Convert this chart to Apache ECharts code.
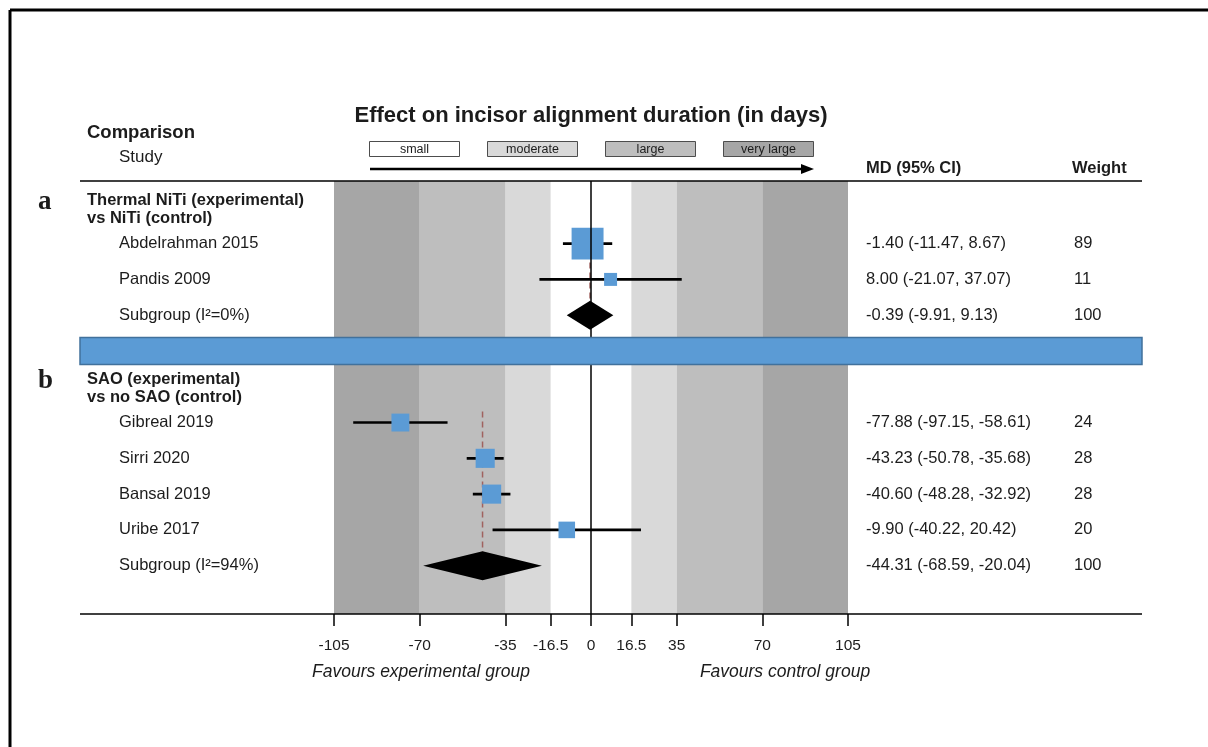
<!DOCTYPE html>
<html>
<head>
<meta charset="utf-8">
<title>Effect on incisor alignment duration</title>
<script src="https://cdn.jsdelivr.net/npm/echarts@6/dist/echarts.min.js"></script>
<style>
  html, body { margin: 0; padding: 0; background: #fff; }
  #chart { width: 1208px; height: 747px; }
</style>
</head>
<body>
<div id="chart"></div>
<script>
// ---- Data -------------------------------------------------------------
const chartTitle = 'Effect on incisor alignment duration (in days)';

// Subgroup a: thermal NiTi vs NiTi
const groupA_title = ['Thermal NiTi (experimental)', 'vs NiTi (control)'];
const groupA_studies = ['Abdelrahman 2015', 'Pandis 2009'];
const groupA_md = [-1.40, 8.00];
const groupA_lower = [-11.47, -21.07];
const groupA_upper = [8.67, 37.07];
const groupA_weight = [89, 11];
const groupA_pooled = [-0.39, -9.91, 9.13];   // MD, lower, upper
const groupA_i2 = 0;

// Subgroup b: SAO vs no SAO
const groupB_title = ['SAO (experimental)', 'vs no SAO (control)'];
const groupB_studies = ['Gibreal 2019', 'Sirri 2020', 'Bansal 2019', 'Uribe 2017'];
const groupB_md = [-77.88, -43.23, -40.60, -9.90];
const groupB_lower = [-97.15, -50.78, -48.28, -40.22];
const groupB_upper = [-58.61, -35.68, -32.92, 20.42];
const groupB_weight = [24, 28, 28, 20];
const groupB_pooled = [-44.31, -68.59, -20.04];
const groupB_i2 = 94;

// Axis ticks and effect-size thresholds (days)
const axisTicks = [-105, -70, -35, -16.5, 0, 16.5, 35, 70, 105];
const effectThresholds = [16.5, 35, 70, 105];
const effectLabels = ['small', 'moderate', 'large', 'very large'];
const favourLabels = ['Favours experimental group', 'Favours control group'];

// ---- Styling ----------------------------------------------------------
const SANS = "'Liberation Sans', Arial, Helvetica, sans-serif";
const SERIF = "'Liberation Serif', 'Times New Roman', serif";
const TXT = '#1c1c1c';
const BLUE = '#5b9bd5';
const bandColors = ['#ffffff', '#d9d9d9', '#bebebe', '#a6a6a6'];

const groups = [
  { letter: 'a', title: groupA_title, studies: groupA_studies, md: groupA_md,
    lower: groupA_lower, upper: groupA_upper, weight: groupA_weight,
    pooled: groupA_pooled, i2: groupA_i2 },
  { letter: 'b', title: groupB_title, studies: groupB_studies, md: groupB_md,
    lower: groupB_lower, upper: groupB_upper, weight: groupB_weight,
    pooled: groupB_pooled, i2: groupB_i2 }
];

// Row layout on the (inverted) y axis: one unit per table row
let cursor = 1.75;
groups.forEach(g => {
  g.start = cursor;
  g.rows = g.studies.map((_, i) => cursor + i);
  g.subRow = cursor + g.studies.length;
  g.sepRow = g.subRow + 1;
  cursor = g.subRow + 3;
});

const fmt = v => v.toFixed(2);
const ciText = (m, l, u) => `${fmt(m)} (${fmt(l)}, ${fmt(u)})`;

// study points: [md, row, lower, upper, weight]
const studyData = [];
const pooledData = [];
groups.forEach(g => {
  g.studies.forEach((_, i) => {
    studyData.push([g.md[i], g.rows[i], g.lower[i], g.upper[i], g.weight[i]]);
  });
  pooledData.push([g.pooled[0], g.subRow, g.pooled[1], g.pooled[2], g.start]);
});

// shaded effect-size bands, mirrored about zero
const bandAreas = [];
for (let i = 1; i < effectThresholds.length; i++) {
  const a = effectThresholds[i - 1], b = effectThresholds[i];
  bandAreas.push([{ xAxis: -b, itemStyle: { color: bandColors[i] } }, { xAxis: -a }]);
  bandAreas.push([{ xAxis: a, itemStyle: { color: bandColors[i] } }, { xAxis: b }]);
}

const chart = echarts.init(document.getElementById('chart'), null, { renderer: 'canvas' });

const option = {
  animation: false,
  backgroundColor: '#ffffff',
  grid: { left: 334, top: 181, width: 514, height: 433 },
  xAxis: {
    type: 'value', min: -105, max: 105, position: 'bottom',
    axisLine: { show: false, onZero: false },
    splitLine: { show: false },
    axisTick: { show: true, customValues: axisTicks, length: 12, lineStyle: { color: '#000', width: 1.5 } },
    axisLabel: { show: true, customValues: axisTicks, margin: 24, fontFamily: SANS, fontSize: 15.5, color: TXT,
                 formatter: v => String(v) }
  },
  yAxis: { type: 'value', min: 0, max: 12.1, inverse: true, show: false },
  series: [
    {
      type: 'line', data: [], z: 1, silent: true,
      markArea: { silent: true, data: bandAreas },
      markLine: {
        silent: true, symbol: 'none', label: { show: false },
        lineStyle: { color: '#000', width: 1.5, type: 'solid' },
        data: [{ xAxis: 0 }]
      }
    },
    {
      type: 'custom', z: 3, silent: true,
      data: pooledData,
      encode: { x: [0, 2, 3], y: 1 },
      renderItem: (params, api) => {
        const y = api.value(1);
        const c = api.coord([api.value(0), y]);
        const l = api.coord([api.value(2), y]);
        const u = api.coord([api.value(3), y]);
        const top = api.coord([api.value(0), api.value(4)]);
        const h = 14.5;
        return {
          type: 'group', children: [
            { type: 'line', shape: { x1: c[0], y1: top[1] - 11, x2: c[0], y2: c[1] + h },
              style: { stroke: '#a0625f', lineWidth: 1.5, lineDash: [6, 4] } },
            { type: 'polygon',
              shape: { points: [[l[0], c[1]], [c[0], c[1] - h], [u[0], c[1]], [c[0], c[1] + h]] },
              style: { fill: '#000' } }
          ]
        };
      }
    },
    {
      type: 'custom', z: 4, silent: true,
      data: studyData,
      encode: { x: [0, 2, 3], y: 1 },
      renderItem: (params, api) => {
        const y = api.value(1);
        const p = api.coord([api.value(0), y]);
        const l = api.coord([api.value(2), y]);
        const u = api.coord([api.value(3), y]);
        const s = 2.7 + 3.1 * Math.sqrt(api.value(4));
        return {
          type: 'group', children: [
            { type: 'line', shape: { x1: l[0], y1: l[1], x2: u[0], y2: u[1] },
              style: { stroke: '#000', lineWidth: 2.6 } },
            { type: 'rect', shape: { x: p[0] - s / 2, y: p[1] - s / 2, width: s, height: s },
              style: { fill: BLUE } }
          ]
        };
      }
    }
  ]
};
chart.setOption(option);

// ---- Table text, header and decorations ---------------------------------
const rowY = v => chart.convertToPixel({ yAxisIndex: 0 }, v);
const xLeft = chart.convertToPixel({ xAxisIndex: 0 }, -105);
const xRight = chart.convertToPixel({ xAxisIndex: 0 }, 105);

const text = (x, y, str, opts = {}) => ({
  type: 'text', x, y, z: 100, silent: true,
  style: {
    text: str, fill: TXT,
    font: `${opts.italic ? 'italic ' : ''}${opts.weight || 'normal'} ${opts.size || 16.5}px ${opts.family || SANS}`,
    align: opts.align || 'left', verticalAlign: 'middle'
  }
});

const hline = (x1, x2, y, w = 1.5) => ({
  type: 'line', z: 100, silent: true, shape: { x1, y1: y, x2, y2: y }, style: { stroke: '#000', lineWidth: w }
});

const tableL = 80, tableR = 1142;
const colStudy = 119, colGroup = 87, colMD = 866, colW = 1074;
const gridTop = 181, gridBottom = 614;

const g = [];
// frame
g.push({ type: 'line', z: 100, silent: true, shape: { x1: 10, y1: 10, x2: 1208, y2: 10 }, style: { stroke: '#000', lineWidth: 3 } });
g.push({ type: 'line', z: 100, silent: true, shape: { x1: 10, y1: 10, x2: 10, y2: 747 }, style: { stroke: '#000', lineWidth: 3 } });

// title and column headings
g.push(text((xLeft + xRight) / 2, 116, chartTitle, { weight: 'bold', size: 22, align: 'center' }));
g.push(text(colGroup, 133, 'Comparison', { weight: 'bold', size: 18.5 }));
g.push(text(colStudy, 157, 'Study', { size: 17 }));
g.push(text(colMD, 168, 'MD (95% CI)', { weight: 'bold', size: 16.5 }));
g.push(text(1072, 168, 'Weight', { weight: 'bold', size: 16.5 }));

// effect-size legend boxes and arrow
const boxX = [369, 487, 605, 723], boxW = 90, boxY = 141, boxH = 15;
effectLabels.forEach((lab, i) => {
  g.push({ type: 'rect', z: 100, silent: true, shape: { x: boxX[i] + 0.5, y: boxY + 0.5, width: boxW, height: boxH },
           style: { fill: bandColors[i], stroke: '#4d4d4d', lineWidth: 1 } });
  g.push(text(boxX[i] + boxW / 2 + 0.5, boxY + boxH / 2 + 1, lab, { size: 12.5, align: 'center' }));
});
g.push({ type: 'line', z: 100, silent: true, shape: { x1: 370, y1: 169, x2: 803, y2: 169 }, style: { stroke: '#000', lineWidth: 2.5 } });
g.push({ type: 'polygon', z: 100, silent: true, shape: { points: [[814, 169], [801, 164], [801, 174]] }, style: { fill: '#000' } });

// table rules
g.push(hline(tableL, tableR, gridTop, 1.6));
g.push(hline(tableL, tableR, gridBottom, 1.6));

// subgroup rows
groups.forEach(gr => {
  const h1 = rowY(gr.start - 1.2), h2 = rowY(gr.start - 0.7);
  g.push(text(38, h1 + 1, gr.letter, { weight: 'bold', size: 27, family: SERIF }));
  g.push(text(colGroup, h1, gr.title[0], { weight: 'bold', size: 16.5 }));
  g.push(text(colGroup, h2, gr.title[1], { weight: 'bold', size: 16.5 }));
  gr.studies.forEach((s, i) => {
    const y = rowY(gr.rows[i]);
    g.push(text(colStudy, y, s));
    g.push(text(colMD, y, ciText(gr.md[i], gr.lower[i], gr.upper[i])));
    g.push(text(colW, y, String(gr.weight[i])));
  });
  const ys = rowY(gr.subRow);
  const totalW = gr.weight.reduce((a, b) => a + b, 0);
  g.push(text(colStudy, ys, `Subgroup (I\u00b2=${gr.i2}%)`));
  g.push(text(colMD, ys, ciText(gr.pooled[0], gr.pooled[1], gr.pooled[2])));
  g.push(text(colW, ys, String(totalW)));
});

// separator band between the subgroups
const sepY = rowY(groups[0].sepRow);
g.push({ type: 'rect', z: 101, silent: true, shape: { x: tableL, y: sepY - 13.5, width: tableR - tableL, height: 27 },
         style: { fill: BLUE, stroke: '#41719c', lineWidth: 1.5 } });

// favours captions
g.push(text(421, 672, favourLabels[0], { size: 17.5, italic: true, align: 'center' }));
g.push(text(785, 672, favourLabels[1], { size: 17.5, italic: true, align: 'center' }));

chart.setOption({ graphic: { elements: g } });
</script>
</body>
</html>
